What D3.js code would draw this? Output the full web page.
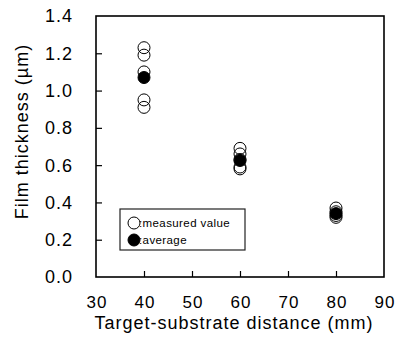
<!DOCTYPE html>
<html>
<head>
<meta charset="utf-8">
<script src="https://cdn.jsdelivr.net/npm/d3@7"></script>
<style>
  body { margin: 0; background: #fff; }
  text { font-family: "Liberation Sans", Arial, sans-serif; fill: #000; }
</style>
</head>
<body>
<div id="chart"></div>
<script>
// distances (mm) and film thickness (um)
const distances = [40, 60, 80];
const measured40 = [1.23, 1.19, 1.10, 0.95, 0.91];
const measured60 = [0.69, 0.66, 0.63, 0.59, 0.58];
const measured80 = [0.37, 0.35, 0.33, 0.32];
const averages = [1.07, 0.625, 0.34];
const xTicks = [30, 40, 50, 60, 70, 80, 90];
const yTicks = [0, 0.2, 0.4, 0.6, 0.8, 1.0, 1.2, 1.4];

const width = 395, height = 349;
const margin = { top: 16, right: 11, bottom: 72, left: 96 };

const svg = d3.select('#chart').append('svg')
  .attr('width', width)
  .attr('height', height);

const x = d3.scaleLinear().domain([30, 90]).range([margin.left, width - margin.right]);
const y = d3.scaleLinear().domain([0, 1.4]).range([height - margin.bottom, margin.top]);

// y axis, ticks pointing inwards
const yAxis = svg.append('g')
  .attr('transform', `translate(${margin.left},0)`)
  .call(d3.axisRight(y).tickValues(yTicks).tickSize(6).tickFormat(''));
yAxis.select('.domain').remove();
yAxis.selectAll('line').attr('stroke', '#000').attr('stroke-width', 1.2);
yAxis.selectAll('.tick').filter(d => d === 0 || d === 1.4).remove();

svg.append('g').selectAll('text')
  .data(yTicks)
  .enter().append('text')
  .attr('x', margin.left - 23)
  .attr('y', d => y(d))
  .attr('dy', '0.36em')
  .attr('text-anchor', 'end')
  .style('font-size', '18px')
  .style('letter-spacing', '1px')
  .text(d => d.toFixed(1));

// x axis, ticks pointing up
const xAxis = svg.append('g')
  .attr('transform', `translate(0,${y(0)})`)
  .call(d3.axisTop(x).tickValues(xTicks).tickSize(6).tickFormat(''));
xAxis.select('.domain').remove();
xAxis.selectAll('line').attr('stroke', '#000').attr('stroke-width', 1.2);
xAxis.selectAll('.tick').filter(d => d === 30 || d === 90).remove();

svg.append('g').selectAll('text')
  .data(xTicks)
  .enter().append('text')
  .attr('x', d => x(d) + 1)
  .attr('y', y(0) + 31)
  .attr('text-anchor', 'middle')
  .style('font-size', '17px')
  .style('letter-spacing', '1px')
  .text(d => d);

// plot frame
svg.append('rect')
  .attr('x', x(30))
  .attr('y', y(1.4))
  .attr('width', x(90) - x(30))
  .attr('height', y(0) - y(1.4))
  .attr('fill', 'none')
  .attr('stroke', '#000')
  .attr('stroke-width', 1.6);

// titles
svg.append('text')
  .attr('x', 234)
  .attr('y', y(0) + 52)
  .attr('text-anchor', 'middle')
  .style('font-size', '18px')
  .style('letter-spacing', '1px')
  .text('Target-substrate distance (mm)');

svg.append('text')
  .attr('transform', `translate(22,${(y(0) + y(1.4)) / 2 - 15}) rotate(-90)`)
  .attr('text-anchor', 'middle')
  .attr('dy', '0.36em')
  .style('font-size', '18px')
  .style('letter-spacing', '1px')
  .text('Film thickness (\u00b5m)');

// measured points
const measuredPts = [];
[measured40, measured60, measured80].forEach((vals, i) => {
  vals.forEach(v => measuredPts.push({ d: distances[i], v: v }));
});

svg.append('g').selectAll('circle')
  .data(measuredPts)
  .enter().append('circle')
  .attr('cx', p => x(p.d))
  .attr('cy', p => y(p.v))
  .attr('r', 6)
  .attr('fill', 'none')
  .attr('stroke', '#000')
  .attr('stroke-width', 1);

svg.append('g').selectAll('circle')
  .data(distances)
  .enter().append('circle')
  .attr('cx', d => x(d))
  .attr('cy', (d, i) => y(averages[i]))
  .attr('r', 6)
  .attr('fill', '#000')
  .attr('stroke', '#000')
  .attr('stroke-width', 1);

// legend
const lg = svg.append('g').attr('transform', 'translate(120,209)');
lg.append('rect')
  .attr('width', 125)
  .attr('height', 41)
  .attr('fill', '#fff')
  .attr('stroke', '#222')
  .attr('stroke-width', 1.2);
lg.append('circle').attr('cx', 14).attr('cy', 14).attr('r', 6)
  .attr('fill', '#fff').attr('stroke', '#000').attr('stroke-width', 1);
lg.append('circle').attr('cx', 14).attr('cy', 31).attr('r', 6)
  .attr('fill', '#000').attr('stroke', '#000').attr('stroke-width', 1);
lg.append('text').attr('x', 19).attr('y', 14).attr('dy', '0.36em')
  .style('font-size', '11.5px').style('letter-spacing', '0.4px').text(':measured value');
lg.append('text').attr('x', 19).attr('y', 31).attr('dy', '0.36em')
  .style('font-size', '11.5px').style('letter-spacing', '0.4px').text(':average');
</script>
</body>
</html>
